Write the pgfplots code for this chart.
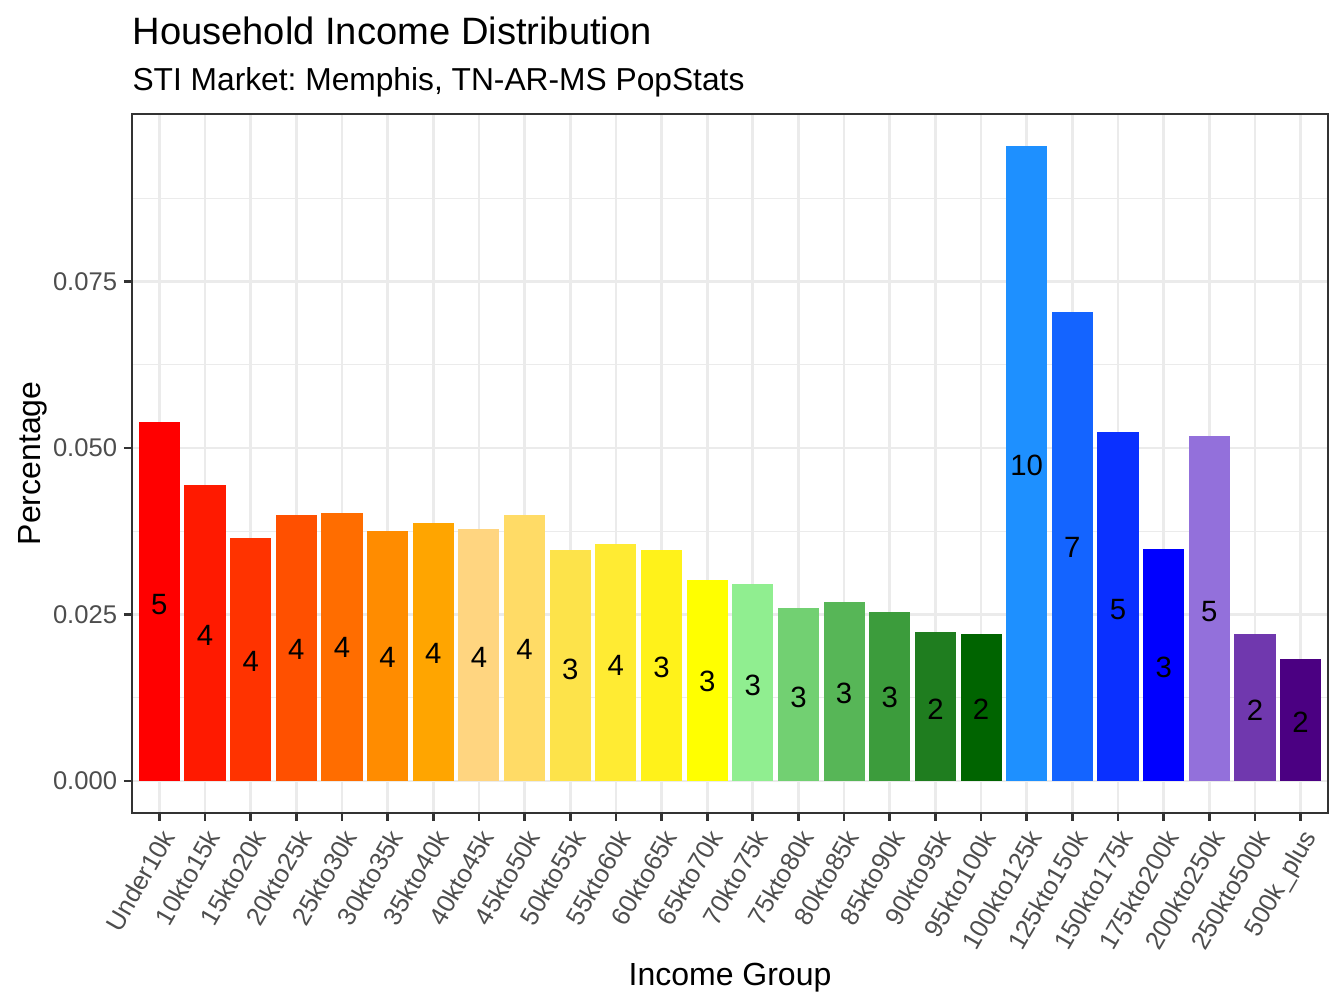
\documentclass[border=0pt]{standalone}
\usepackage{fontspec}
\setmainfont{Liberation Sans}
\usepackage{pgfplots}
\pgfplotsset{compat=1.18}
\frenchspacing

\definecolor{grey20}{HTML}{333333}
\definecolor{grey30}{HTML}{4D4D4D}
\definecolor{grey92}{HTML}{EBEBEB}
\definecolor{c1}{HTML}{FF0000}
\definecolor{c2}{HTML}{FF1A00}
\definecolor{c3}{HTML}{FF3300}
\definecolor{c4}{HTML}{FF5000}
\definecolor{c5}{HTML}{FF6D00}
\definecolor{c6}{HTML}{FF8C00}
\definecolor{c7}{HTML}{FFA500}
\definecolor{c8}{HTML}{FFD580}
\definecolor{c9}{HTML}{FFDB66}
\definecolor{c10}{HTML}{FDE34A}
\definecolor{c11}{HTML}{FFEB33}
\definecolor{c12}{HTML}{FFF21A}
\definecolor{c13}{HTML}{FFFF00}
\definecolor{c14}{HTML}{90EE90}
\definecolor{c15}{HTML}{72D072}
\definecolor{c16}{HTML}{57B657}
\definecolor{c17}{HTML}{3C9C3C}
\definecolor{c18}{HTML}{1F7D1F}
\definecolor{c19}{HTML}{006400}
\definecolor{c20}{HTML}{1E90FF}
\definecolor{c21}{HTML}{1464FF}
\definecolor{c22}{HTML}{0A30FF}
\definecolor{c23}{HTML}{0000FF}
\definecolor{c24}{HTML}{9370DB}
\definecolor{c25}{HTML}{7038AE}
\definecolor{c26}{HTML}{4B0082}

\pgfplotsset{
  incbar/.style={ybar, bar width=0.9, bar shift=0pt, draw=none, fill=#1}
}

\begin{document}
\begin{tikzpicture}
\path[use as bounding box] (-49.5pt,-73.2pt) rectangle (454.5pt,304.75pt);

\node[anchor=base west, inner sep=0pt, font=\fontsize{14.3}{16}\selectfont] at (0pt,288.1pt) {Household Income Distribution};
\node[anchor=base west, inner sep=0pt, font=\fontsize{11.9}{14}\selectfont] at (0pt,270.8pt) {STI Market: Memphis, TN-AR-MS PopStats};

\begin{axis}[
  at={(0pt,0pt)}, anchor=south west,
  scale only axis, width=448.5pt, height=262pt,
  xmin=0.4, xmax=26.6, ymin=-0.00477, ymax=0.10017,
  axis line style={color=grey20, line width=0.8pt},
  tick style={color=grey20, line width=1.0pt},
  major tick length=3pt, minor tick length=0pt,
  tick align=outside, tick pos=left,
  xtick={1,...,26},
  xticklabels={Under10k,10kto15k,15kto20k,20kto25k,25kto30k,30kto35k,35kto40k,40kto45k,45kto50k,50kto55k,55kto60k,60kto65k,65kto70k,70kto75k,75kto80k,80kto85k,85kto90k,90kto95k,95kto100k,100kto125k,125kto150k,150kto175k,175kto200k,200kto250k,250kto500k,500k\_plus},
  ytick={0,0.025,0.05,0.075},
  minor ytick={0.0125,0.0375,0.0625,0.0875},
  xmajorgrids, ymajorgrids, yminorgrids,
  major grid style={color=grey92, line width=1.0pt},
  minor grid style={color=grey92, line width=0.5pt},
  /pgf/number format/assume math mode=true,
  scaled y ticks=false,
  yticklabel style={/pgf/number format/.cd, fixed, fixed zerofill, precision=3, /tikz/.cd,
    anchor=east, inner sep=0pt, xshift=-2.4pt, text=grey30, font=\fontsize{9.6}{11}\selectfont},
  xticklabel style={yshift=-2.4pt, rotate=60, anchor=north east, inner sep=0pt,
    text=grey30, font=\fontsize{9.6}{11}\selectfont},
  xlabel={Income Group}, ylabel={Percentage},
  label style={font=\fontsize{12}{14}\selectfont},
  xlabel style={at={(axis description cs:0.5,-0.2479)}, anchor=base},
  ylabel style={at={(axis description cs:-0.0769,0.5)}, anchor=base},
]
\addplot[incbar=c1] coordinates {(1,0.0539)};
\addplot[incbar=c2] coordinates {(2,0.0445)};
\addplot[incbar=c3] coordinates {(3,0.0365)};
\addplot[incbar=c4] coordinates {(4,0.0399)};
\addplot[incbar=c5] coordinates {(5,0.0402)};
\addplot[incbar=c6] coordinates {(6,0.0375)};
\addplot[incbar=c7] coordinates {(7,0.0387)};
\addplot[incbar=c8] coordinates {(8,0.0378)};
\addplot[incbar=c9] coordinates {(9,0.0399)};
\addplot[incbar=c10] coordinates {(10,0.0347)};
\addplot[incbar=c11] coordinates {(11,0.0356)};
\addplot[incbar=c12] coordinates {(12,0.0347)};
\addplot[incbar=c13] coordinates {(13,0.0302)};
\addplot[incbar=c14] coordinates {(14,0.0296)};
\addplot[incbar=c15] coordinates {(15,0.0260)};
\addplot[incbar=c16] coordinates {(16,0.0269)};
\addplot[incbar=c17] coordinates {(17,0.0254)};
\addplot[incbar=c18] coordinates {(18,0.0224)};
\addplot[incbar=c19] coordinates {(19,0.0221)};
\addplot[incbar=c20] coordinates {(20,0.0953)};
\addplot[incbar=c21] coordinates {(21,0.0705)};
\addplot[incbar=c22] coordinates {(22,0.0524)};
\addplot[incbar=c23] coordinates {(23,0.0348)};
\addplot[incbar=c24] coordinates {(24,0.0518)};
\addplot[incbar=c25] coordinates {(25,0.0220)};
\addplot[incbar=c26] coordinates {(26,0.0183)};

\addplot[only marks, mark=none, point meta=explicit symbolic,
  nodes near coords, nodes near coords align=center,
  every node near coord/.append style={anchor=center, inner sep=0pt,
    font=\fontsize{11}{13}\selectfont, text=black}]
  table[meta=lab] {
x y lab
1 0.0265 5
2 0.0219 4
3 0.0179 4
4 0.0197 4
5 0.0200 4
6 0.0186 4
7 0.0191 4
8 0.0186 4
9 0.0197 4
10 0.0168 3
11 0.0173 4
12 0.0170 3
13 0.0149 3
14 0.0144 3
15 0.0126 3
16 0.0132 3
17 0.0125 3
18 0.0108 2
19 0.0107 2
20 0.0474 10
21 0.0350 7
22 0.0258 5
23 0.0170 3
24 0.0255 5
25 0.0106 2
26 0.0088 2
};
\end{axis}
\end{tikzpicture}
\end{document}
